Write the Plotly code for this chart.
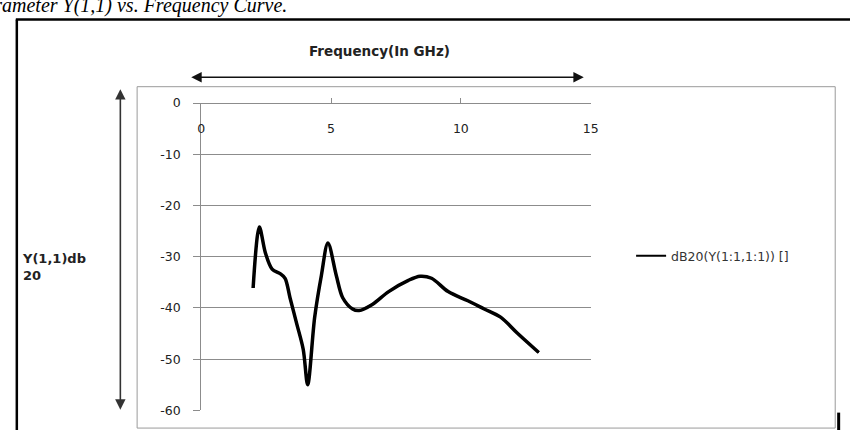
import plotly.graph_objects as go

# Frequency sweep (GHz) and dB20 magnitude of Y(1,1)
freq_ghz = [2.00, 2.24, 2.47, 2.73, 3.04, 3.23, 3.42, 3.68, 3.93, 4.10,
            4.37, 4.63, 4.88, 5.20, 5.45, 5.83, 6.08, 6.59, 7.22, 7.98,
            8.43, 8.87, 9.51, 10.27, 10.90, 11.53, 12.17, 13.00]
y11_db20 = [-36.1, -24.2, -29.2, -32.4, -33.3, -34.2, -38.0, -43.1, -48.1, -55.0,
            -41.8, -33.6, -27.3, -33.6, -38.0, -40.2, -40.5, -39.3, -36.8, -34.6,
            -33.8, -34.2, -36.8, -38.6, -40.2, -41.8, -44.9, -48.7]

x_ticks = [0, 5, 10, 15]
x_ticktext = ["0", "5", "10", "15"]
y_ticks = [0, -10, -20, -30, -40, -50, -60]
y_ticktext = ["0", "-10", "-20", "-30", "-40", "-50", "-60"]

series_name = "dB20(Y(1:1,1:1)) []"
x_title = "Frequency(In GHz)"
y_title = "Y(1,1)db<br>20"
caption = "Parameter Y(1,1) vs. Frequency Curve."

W, H = 858, 437


def px(xp):
    return xp / W


def py(yp):
    return 1 - yp / H


GRID = "#8c8c8c"
TXT = "#222222"

fig = go.Figure()
# thin copy of the series: gives the legend its slim line sample
fig.add_trace(go.Scatter(
    x=freq_ghz, y=y11_db20, mode="lines", name=series_name, showlegend=True,
    line=dict(color="black", width=2, shape="spline", smoothing=0.9),
))
# the plotted curve itself
fig.add_trace(go.Scatter(
    x=freq_ghz, y=y11_db20, mode="lines", name=series_name, showlegend=False,
    line=dict(color="black", width=3.5, shape="spline", smoothing=0.9),
))

fig.update_layout(
    width=W, height=H,
    margin=dict(l=0, r=0, t=0, b=0),
    paper_bgcolor="white", plot_bgcolor="white",
    font=dict(family="DejaVu Sans", size=12, color=TXT),
    showlegend=True,
    legend=dict(x=px(636), y=py(257), xanchor="left", yanchor="middle",
                bgcolor="rgba(0,0,0,0)", font=dict(size=12.5, color="#333333")),
    xaxis=dict(
        domain=[px(200), px(595)], range=[0, 15],
        tickvals=x_ticks, ticktext=x_ticktext,
        showgrid=False, zeroline=False, showline=True, linecolor=GRID, linewidth=1,
        anchor="free", position=py(98.5), side="bottom",
        ticks="inside", ticklen=5, tickcolor=GRID,
        ticklabelstandoff=14, tickfont=dict(size=12.5, color=TXT),
    ),
    yaxis=dict(
        domain=[py(416.7), py(98.5)], range=[-60, 0],
        tickvals=y_ticks, ticktext=y_ticktext,
        showgrid=True, gridcolor=GRID, gridwidth=1, zeroline=False,
        showline=True, linecolor=GRID, linewidth=1,
        ticks="outside", ticklen=7, tickcolor=GRID,
        ticklabelstandoff=10, tickfont=dict(size=12.5, color=TXT),
    ),
)

shapes = [
    # chart area border
    dict(type="rect", xref="paper", yref="paper",
         x0=px(135), x1=px(843), y0=py(435), y1=py(81.5),
         line=dict(color="#9a9a9a", width=1), layer="below"),
    # outer black frame (top and left)
    dict(type="line", xref="paper", yref="paper",
         x0=px(12), x1=1, y0=py(12), y1=py(12),
         line=dict(color="black", width=2.5)),
    dict(type="line", xref="paper", yref="paper",
         x0=px(13), x1=px(13), y0=py(12), y1=0,
         line=dict(color="black", width=2.5)),
    dict(type="line", xref="paper", yref="paper",
         x0=px(846.5), x1=px(846.5), y0=py(419), y1=0,
         line=dict(color="black", width=3)),
]
fig.update_layout(shapes=shapes)

annotations = [
    # caption, running off the top-left corner
    dict(text=caption, xref="paper", yref="paper", x=px(-36), y=py(11),
         xanchor="left", yanchor="bottom", showarrow=False,
         font=dict(family="Liberation Serif", size=20, style="italic", color="black")),
    # x title
    dict(text="<b>" + x_title + "</b>", xref="paper", yref="paper",
         x=px(381), y=py(45), xanchor="center", yanchor="middle", showarrow=False,
         font=dict(size=13.5, color=TXT)),
    # y title
    dict(text="<b>" + y_title + "</b>", xref="paper", yref="paper",
         x=px(16), y=py(268), xanchor="left", yanchor="middle", align="left",
         showarrow=False, font=dict(size=13, color=TXT)),
    # horizontal double arrow
    dict(text="", xref="paper", yref="paper", x=px(588), y=py(71.7),
         ax=-(588 - 194), ay=0, showarrow=True, arrowside="end+start",
         arrowhead=2, arrowsize=1.3, arrowwidth=1.6, arrowcolor="#111111"),
    # vertical double arrow
    dict(text="", xref="paper", yref="paper", x=px(118), y=py(416),
         ax=0, ay=-(416 - 94), showarrow=True, arrowside="end+start",
         arrowhead=2, arrowsize=1.3, arrowwidth=1.6, arrowcolor="#333333"),
]
fig.update_layout(annotations=annotations)

fig.write_html("out.html")
